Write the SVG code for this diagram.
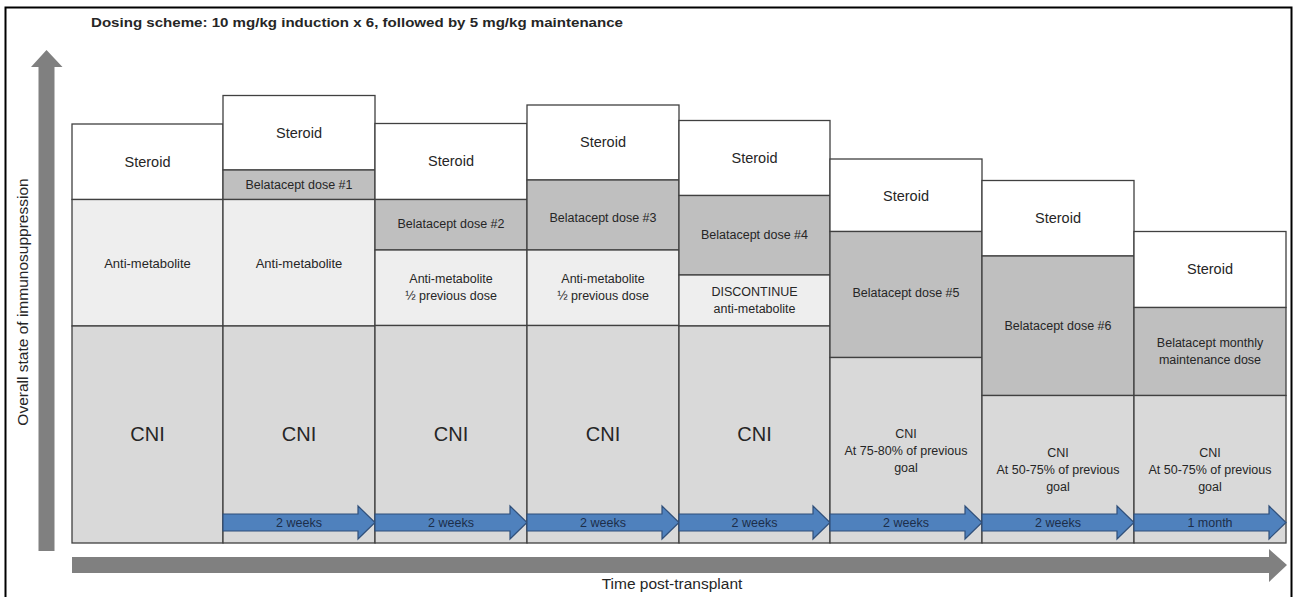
<svg xmlns="http://www.w3.org/2000/svg" width="1296" height="597" viewBox="0 0 1296 597">
<style>
text{font-family:"Liberation Sans",Arial,sans-serif;fill:#262626;text-anchor:middle;dominant-baseline:central}
.box{stroke:#404040;stroke-width:1.3}
.st{fill:#ffffff}
.bel{fill:#bfbfbf}
.am{fill:#eeeeee}
.cni{fill:#d9d9d9}
.t14{font-size:14.5px}
.ax{font-size:15.5px}
.t13{font-size:13px}
.t12{font-size:12.5px}
.big{font-size:20px}
.blue{fill:#4f81bd;stroke:#2f4f7a;stroke-width:1.2}
.wk{font-size:12.5px;fill:#1c2e4a}
.axis{fill:#808080}
</style>
<rect x="5.5" y="7.5" width="1286" height="592" fill="#ffffff" stroke="#000000" stroke-width="2"/>
<text x="91" y="22" style="text-anchor:start;font-weight:bold;font-size:13.5px" fill="#000" textLength="532" lengthAdjust="spacingAndGlyphs">Dosing scheme: 10 mg/kg induction x 6, followed by 5 mg/kg maintenance</text>
<g id="axes">
<polygon class="axis" points="38.5,551 38.5,67 31,67 46.5,50 62.5,67 54.5,67 54.5,551"/>
<polygon class="axis" points="72,557 1269,557 1269,549 1287,565 1269,582 1269,573 72,573"/>
<text x="22" y="302" class="ax" transform="rotate(-90 22 302)">Overall state of immunosuppression</text>
<text x="672" y="583" class="ax">Time post-transplant</text>
</g>
<g id="col1">
<rect class="box st" x="72" y="124" width="151" height="75.5"/>
<rect class="box am" x="72" y="199.5" width="151" height="126.5"/>
<rect class="box cni" x="72" y="326" width="151" height="217"/>
<text x="147.5" y="162" class="t14">Steroid</text>
<text x="147.5" y="263" class="t13">Anti-metabolite</text>
<text x="147.5" y="434" class="big">CNI</text>
</g>
<g id="col2">
<rect class="box st" x="223" y="95.5" width="152" height="74.5"/>
<rect class="box bel" x="223" y="170" width="152" height="29.5"/>
<rect class="box am" x="223" y="199.5" width="152" height="126.5"/>
<rect class="box cni" x="223" y="326" width="152" height="217"/>
<text x="299" y="133" class="t14">Steroid</text>
<text x="299" y="185" class="t12">Belatacept dose #1</text>
<text x="299" y="263" class="t13">Anti-metabolite</text>
<text x="299" y="434" class="big">CNI</text>
</g>
<g id="col3">
<rect class="box st" x="375" y="123.5" width="152" height="76"/>
<rect class="box bel" x="375" y="199.5" width="152" height="50.5"/>
<rect class="box am" x="375" y="250" width="152" height="75.5"/>
<rect class="box cni" x="375" y="325.5" width="152" height="217.5"/>
<text x="451" y="161" class="t14">Steroid</text>
<text x="451" y="224" class="t12">Belatacept dose #2</text>
<text x="451" y="279" class="t12">Anti-metabolite</text>
<text x="451" y="296" class="t12">½ previous dose</text>
<text x="451" y="434" class="big">CNI</text>
</g>
<g id="col4">
<rect class="box st" x="527" y="105" width="152" height="75"/>
<rect class="box bel" x="527" y="180" width="152" height="70"/>
<rect class="box am" x="527" y="250" width="152" height="75.5"/>
<rect class="box cni" x="527" y="325.5" width="152" height="217.5"/>
<text x="603" y="142" class="t14">Steroid</text>
<text x="603" y="218" class="t12">Belatacept dose #3</text>
<text x="603" y="279" class="t12">Anti-metabolite</text>
<text x="603" y="296" class="t12">½ previous dose</text>
<text x="603" y="434" class="big">CNI</text>
</g>
<g id="col5">
<rect class="box st" x="679" y="120.5" width="151" height="75"/>
<rect class="box bel" x="679" y="195.5" width="151" height="79.5"/>
<rect class="box am" x="679" y="275" width="151" height="51"/>
<rect class="box cni" x="679" y="326" width="151" height="217"/>
<text x="754.5" y="158" class="t14">Steroid</text>
<text x="754.5" y="235" class="t12">Belatacept dose #4</text>
<text x="754.5" y="292" class="t12">DISCONTINUE</text>
<text x="754.5" y="309" class="t12">anti-metabolite</text>
<text x="754.5" y="434" class="big">CNI</text>
</g>
<g id="col6">
<rect class="box st" x="830" y="159" width="152" height="72.5"/>
<rect class="box bel" x="830" y="231.5" width="152" height="126"/>
<rect class="box cni" x="830" y="357.5" width="152" height="185.5"/>
<text x="906" y="196" class="t14">Steroid</text>
<text x="906" y="293" class="t12">Belatacept dose #5</text>
<text x="906" y="434" class="t12">CNI</text>
<text x="906" y="451" class="t12">At 75-80% of previous</text>
<text x="906" y="468" class="t12">goal</text>
</g>
<g id="col7">
<rect class="box st" x="982" y="180.5" width="152" height="75.5"/>
<rect class="box bel" x="982" y="256" width="152" height="139.5"/>
<rect class="box cni" x="982" y="395.5" width="152" height="147.5"/>
<text x="1058" y="218" class="t14">Steroid</text>
<text x="1058" y="325.5" class="t12">Belatacept dose #6</text>
<text x="1058" y="453" class="t12">CNI</text>
<text x="1058" y="470" class="t12">At 50-75% of previous</text>
<text x="1058" y="487" class="t12">goal</text>
</g>
<g id="col8">
<rect class="box st" x="1134" y="231.5" width="152" height="76"/>
<rect class="box bel" x="1134" y="307.5" width="152" height="88"/>
<rect class="box cni" x="1134" y="395.5" width="152" height="147.5"/>
<text x="1210" y="269" class="t14">Steroid</text>
<text x="1210" y="343" class="t12">Belatacept monthly</text>
<text x="1210" y="359.5" class="t12">maintenance dose</text>
<text x="1210" y="453" class="t12">CNI</text>
<text x="1210" y="470" class="t12">At 50-75% of previous</text>
<text x="1210" y="487" class="t12">goal</text>
</g>
<g id="connectors">
<polygon class="blue" points="223,514 358,514 358,506 375,522.5 358,539 358,531 223,531"/>
<polygon class="blue" points="375,514 510,514 510,506 527,522.5 510,539 510,531 375,531"/>
<polygon class="blue" points="527,514 662,514 662,506 679,522.5 662,539 662,531 527,531"/>
<polygon class="blue" points="679,514 813,514 813,506 830,522.5 813,539 813,531 679,531"/>
<polygon class="blue" points="830,514 965,514 965,506 982,522.5 965,539 965,531 830,531"/>
<polygon class="blue" points="982,514 1117,514 1117,506 1134,522.5 1117,539 1117,531 982,531"/>
<polygon class="blue" points="1134,514 1269,514 1269,506 1286,522.5 1269,539 1269,531 1134,531"/>
<text x="299" y="522.5" class="wk">2 weeks</text>
<text x="451" y="522.5" class="wk">2 weeks</text>
<text x="603" y="522.5" class="wk">2 weeks</text>
<text x="754.5" y="522.5" class="wk">2 weeks</text>
<text x="906" y="522.5" class="wk">2 weeks</text>
<text x="1058" y="522.5" class="wk">2 weeks</text>
<text x="1210" y="522.5" class="wk">1 month</text>
</g>
</svg>
